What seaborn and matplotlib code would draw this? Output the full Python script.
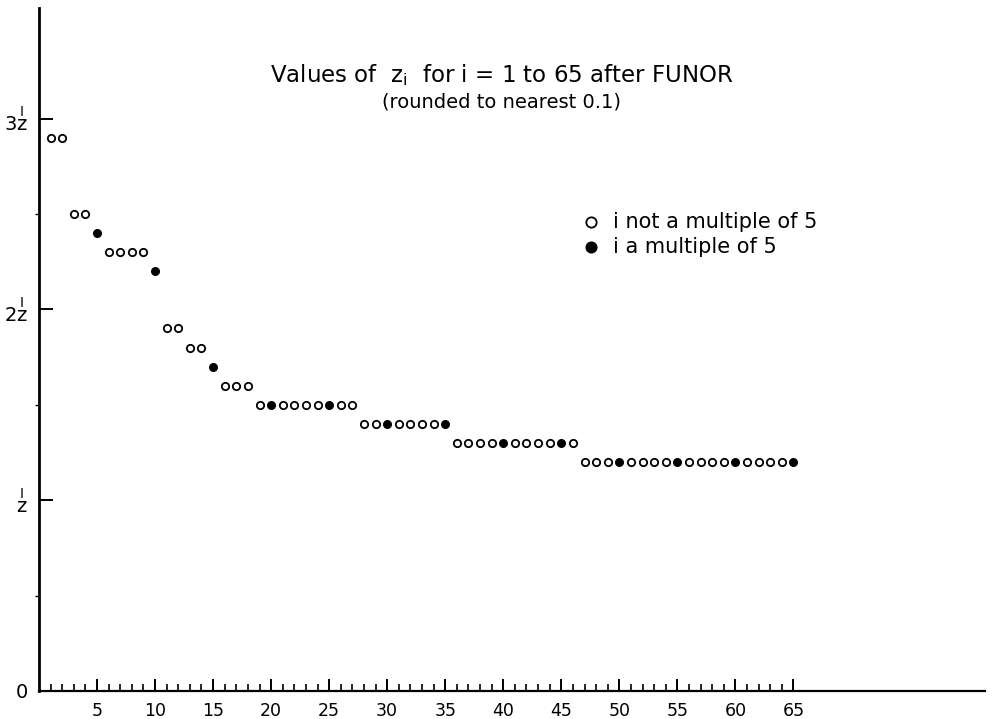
import numpy as np
import pandas as pd
import matplotlib
matplotlib.use("Agg")
import matplotlib.pyplot as plt
import seaborn as sns
from matplotlib.ticker import FixedLocator

# values of z_i (rounded to nearest 0.1)
idx = list(range(1, 66))
z_vals = [2.9, 2.9, 2.5, 2.5, 2.4, 2.3, 2.3, 2.3, 2.3, 2.2,
          1.9, 1.9, 1.8, 1.8, 1.7, 1.6, 1.6, 1.6, 1.5, 1.5,
          1.5, 1.5, 1.5, 1.5, 1.5, 1.5, 1.5, 1.4, 1.4, 1.4,
          1.4, 1.4, 1.4, 1.4, 1.4, 1.3, 1.3, 1.3, 1.3, 1.3,
          1.3, 1.3, 1.3, 1.3, 1.3, 1.3, 1.2, 1.2, 1.2, 1.2,
          1.2, 1.2, 1.2, 1.2, 1.2, 1.2, 1.2, 1.2, 1.2, 1.2,
          1.2, 1.2, 1.2, 1.2, 1.2]
x_tick_labels = ["5", "10", "15", "20", "25", "30", "35", "40", "45", "50", "55", "60", "65"]
y_tick_labels = ["0",
                 r"$\overset{\mathsf{I}}{\mathsf{z}}$",
                 r"$\mathsf{2}\overset{\mathsf{I}}{\mathsf{z}}$",
                 r"$\mathsf{3}\overset{\mathsf{I}}{\mathsf{z}}$"]

df = pd.DataFrame({"i": idx, "z": z_vals})
df["mult5"] = df["i"] % 5 == 0

sns.set_style("white")
plt.rcParams['font.family'] = ['DejaVu Sans']
plt.rcParams['mathtext.fontset'] = 'dejavusans'

fig = plt.figure(figsize=(9.94, 7.19), dpi=100)
ax = fig.add_axes([0.0392, 0.039, 0.9517, 0.95])

sns.scatterplot(data=df[~df["mult5"]], x="i", y="z", ax=ax, s=28,
                facecolor="white", edgecolor="black", linewidth=1.3,
                label="i not a multiple of 5")
sns.scatterplot(data=df[df["mult5"]], x="i", y="z", ax=ax, s=30,
                color="black", edgecolor="black", linewidth=1.0,
                label="i a multiple of 5")

ax.set_xlim(0, 81.5)
ax.set_ylim(0, 3.58)
ax.set_xlabel("")
ax.set_ylabel("")

for side in ["top", "right"]:
    ax.spines[side].set_visible(False)
ax.spines["left"].set_linewidth(2.0)
ax.spines["bottom"].set_linewidth(1.6)
ax.spines["left"].set_color("black")
ax.spines["bottom"].set_color("black")

ax.set_xticks(list(range(5, 66, 5)))
ax.set_xticklabels(x_tick_labels, fontsize=12.5, color="black")
ax.xaxis.set_minor_locator(FixedLocator([k for k in idx if k % 5 != 0]))
ax.tick_params(axis="x", which="both", bottom=True)
ax.tick_params(axis="x", which="major", direction="in", length=9, width=1.4, pad=8, color="black")
ax.tick_params(axis="x", which="minor", direction="in", length=5, width=1.2, color="black")

ax.set_yticks([0, 1, 2, 3])
ax.set_yticklabels(y_tick_labels, fontsize=14, color="black")
ax.yaxis.set_minor_locator(FixedLocator([0.5, 1.5, 2.5]))
ax.tick_params(axis="y", which="both", left=True)
ax.tick_params(axis="y", which="major", direction="in", length=10, width=1.4, pad=8, color="black")
ax.tick_params(axis="y", which="minor", direction="out", length=3, width=1.0, color="black")
# no tick mark at the origin
ax.yaxis.get_major_ticks()[0].tick1line.set_visible(False)

ax.text(0.489, 0.902, r"Values of  $\mathsf{z}_{\mathsf{i}}$  for i = 1 to 65 after FUNOR",
        transform=ax.transAxes, ha="center", va="center", fontsize=16.5, color="black")
ax.text(0.489, 0.862, "(rounded to nearest 0.1)",
        transform=ax.transAxes, ha="center", va="center", fontsize=14, color="black")

leg = ax.legend(loc="upper left", bbox_to_anchor=(0.553, 0.714), frameon=False,
                fontsize=15, handletextpad=0.05, borderaxespad=0, labelspacing=0.25,
                markerscale=1.4)
for t in leg.get_texts():
    t.set_color("black")

fig.savefig("out.png", dpi=100)
